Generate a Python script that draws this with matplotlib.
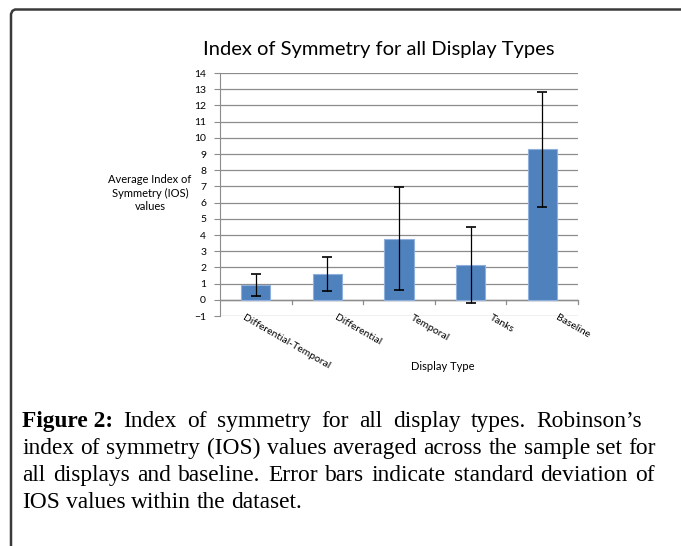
import matplotlib
matplotlib.use("Agg")
import matplotlib.pyplot as plt
from matplotlib.lines import Line2D

# data
display_types = ["Differential-Temporal", "Differential", "Temporal", "Tanks", "Baseline"]
mean_ios = [0.90, 1.57, 3.78, 2.15, 9.28]
std_ios = [0.67, 1.05, 3.17, 2.32, 3.56]

title = "Index of Symmetry for all Display Types"
caption_lines = [
    ["Figure 2:", "Index", "of", "symmetry", "for", "all", "display", "types.", "Robinson\u2019s"],
    "index of symmetry (IOS) values averaged across the sample set for".split(),
    "all displays and baseline. Error bars indicate standard deviation of".split(),
    "IOS values within the dataset.".split(),
]

W, H = 681, 546
fig = plt.figure(figsize=(W / 100, H / 100), dpi=100)

# axes placed in pixel terms of the original
left, right, top, bottom = 220, 578, 73, 316
ax = fig.add_axes([left / W, 1 - bottom / H, (right - left) / W, (bottom - top) / H])

x = list(range(len(display_types)))
ax.bar(x, mean_ios, width=0.41, color="#4f81bd", edgecolor="#8fb0dc",
       linewidth=0.8, zorder=3)
ax.errorbar(x, mean_ios, yerr=std_ios, fmt="none", ecolor="black",
            elinewidth=0.9, capsize=3.5, capthick=1.2, zorder=4)

ax.set_xlim(-0.5, len(display_types) - 0.5)
ax.set_ylim(-1, 14)
ax.set_yticks(range(-1, 15))
ax.grid(axis="y", color="#8c8c8c", linewidth=0.9, zorder=0)
ax.set_axisbelow(True)
for side in ["top", "right", "bottom"]:
    ax.spines[side].set_visible(False)
ax.spines["left"].set_color("#8c8c8c")
ax.tick_params(axis="y", length=4, color="#8c8c8c", labelsize=7.5, pad=6)
ax.set_xticks([])
for lab in ax.get_yticklabels():
    lab.set_family("Lato")

# category axis at zero with small boundary ticks
ax.axhline(0, color="#8c8c8c", linewidth=1.0, zorder=2)
for b in range(1, len(display_types) + 1):
    ax.plot([b - 0.5, b - 0.5], [0, -0.25], color="#8c8c8c", linewidth=0.9,
            clip_on=False, zorder=2)

# rotated category labels
for i, name in enumerate(display_types):
    ax.text(i + 0.43, -0.83, name, rotation=-30, ha="center", va="top",
            fontsize=7.5, family="Lato", clip_on=False)

fig.text(379 / W, 1 - 50 / H, title, ha="center", va="center",
         fontsize=14.5, family="Lato")
fig.text(150 / W, 1 - 193 / H, "Average Index of\nSymmetry (IOS)\nvalues",
         ha="center", va="center", fontsize=8, family="Lato", linespacing=1.25)
fig.text(443 / W, 1 - 366 / H, "Display Type", ha="center", va="center",
         fontsize=8, family="Lato")

# frame lines around the figure panel
fig.add_artist(Line2D([11 / W, 11 / W, 12.5 / W, 15 / W, 680 / W],
                      [0, 1 - 14 / H, 1 - 10.8 / H, 1 - 9.5 / H, 1 - 9.5 / H],
                      color="#3a3a3a", linewidth=1.8))

# justified caption
renderer = fig.canvas.get_renderer()
cap_left = 22
line_right = [642, 656, 655, None]
baselines = [427, 454, 481, 508]
size = 16.8
for n, (words, base) in enumerate(zip(caption_lines, baselines)):
    items = []
    for k, w in enumerate(words):
        bold = (n == 0 and k == 0)
        t = fig.text(0, 1 - base / H, w, fontsize=size, family="Liberation Serif",
                     fontweight="bold" if bold else "normal", va="baseline")
        items.append(t)
    widths = [t.get_window_extent(renderer).width for t in items]
    if line_right[n] is not None:
        gap = (line_right[n] - cap_left - sum(widths)) / (len(items) - 1)
    else:
        gap = size * 0.25 * 100 / 72
    xpos = cap_left
    for t, wd in zip(items, widths):
        t.set_x(xpos / W)
        xpos += wd + gap

fig.savefig("out.png", dpi=100)
